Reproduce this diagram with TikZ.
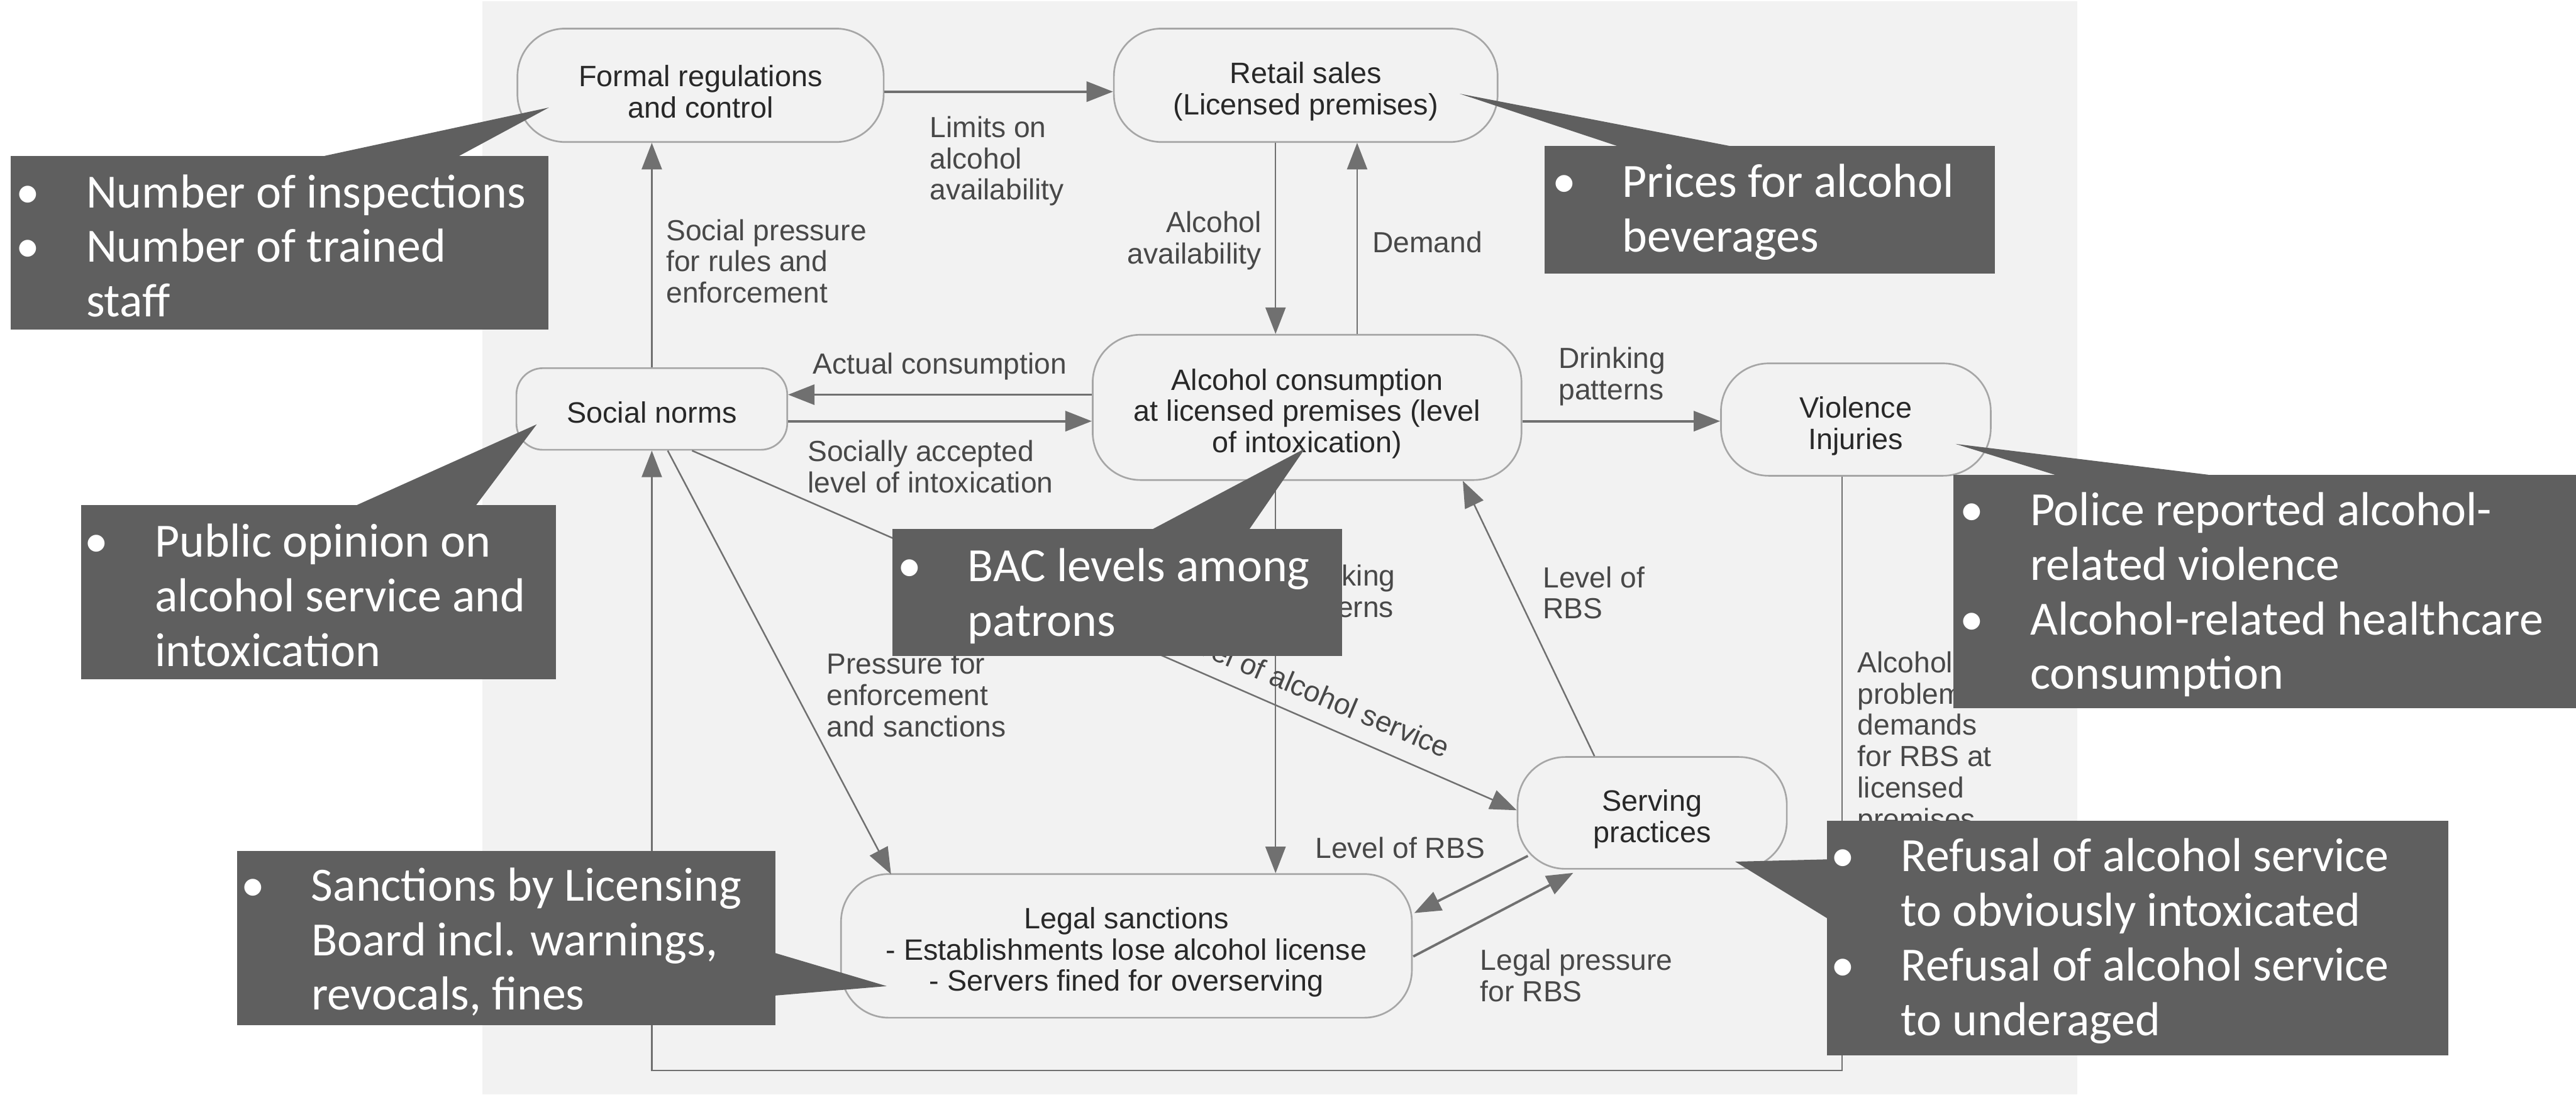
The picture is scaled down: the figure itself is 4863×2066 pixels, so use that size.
\documentclass[tikz,border=0pt]{standalone}
\usepackage{fontspec}
\setmainfont{Liberation Sans}
\newfontfamily\calloutfont{Carlito}
\usetikzlibrary{arrows.meta,calc}

\definecolor{panelgray}{RGB}{242,242,242}
\definecolor{boxline}{RGB}{166,166,166}
\definecolor{linkgray}{RGB}{112,112,112}
\definecolor{nodetext}{RGB}{40,40,40}
\definecolor{labeltext}{RGB}{72,72,72}
\definecolor{calloutgray}{RGB}{95,95,95}

% bullet hung to the left of the first line of an item
\newcommand\bul{\llap{\makebox[1.1cm][l]{\makebox[0pt][c]{\textbullet}}}}
% extra room above the first line of a box, so its text sits a little lower
\newcommand\boxtop{\rule{0pt}{18.3pt}}
\newcommand\boxtopsmall{\rule{0pt}{14.9pt}}

\tikzset{
  x=0.01cm, y=-0.01cm,
  box/.style={draw=boxline, line width=0.9pt, fill=panelgray, rounded corners=0.9cm,
    inner sep=0pt, align=center, text=nodetext, font=\fontsize{15.8pt}{16.8pt}\selectfont},
  lbl/.style={inner sep=0pt, text=labeltext, align=left, font=\fontsize{15.6pt}{16.8pt}\selectfont},
  link/.style={draw=linkgray, line width=0.85pt, -{Triangle[length=0.5cm,width=0.38cm]}},
  boldlink/.style={link, line width=1.3pt},
  callout/.style={fill=calloutgray, inner sep=0pt},
  ctext/.style={inner sep=0pt, text=white, align=left, anchor=west,
    font=\calloutfont\fontsize{25.6pt}{29.3pt}\selectfont},
}

\begin{document}
\begin{tikzpicture}
\useasboundingbox (0,0) rectangle (4863,2066);
\fill[white] (0,0) rectangle (4863,2066);
\fill[panelgray] (911,2) rectangle (3921,2066);

% --- factors ---
\node[box, minimum width=6.91cm, minimum height=2.14cm] (formal) at (1322.5,161) {\boxtop Formal regulations\\and control};
\node[box, minimum width=7.24cm, minimum height=2.14cm] (retail) at (2465,161) {\boxtop Retail sales\\(Licensed premises)};
\node[box, rounded corners=0.5cm, minimum width=5.11cm, minimum height=1.54cm] (social) at (1230.5,772) {\boxtopsmall Social norms};
\node[box, minimum width=8.09cm, minimum height=2.74cm] (alcohol) at (2467.5,769) {\boxtop Alcohol consumption\\at licensed premises (level\\of intoxication)};
\node[box, minimum width=5.09cm, minimum height=2.12cm] (violence) at (3503.5,792) {\boxtop Violence\\Injuries};
\node[box, minimum width=5.08cm, minimum height=2.11cm] (serving) at (3119,1534.5) {\boxtop Serving\\practices};
\node[box, minimum width=10.77cm, minimum height=2.71cm] (legal) at (2126.5,1785.5) {\boxtop Legal sanctions\\- Establishments lose alcohol license\\- Servers fined for overserving};

\coordinate (colA) at (2408,0);
\coordinate (colD) at (2562,0);
\coordinate (rowE) at (0,745);
\coordinate (rowF) at (0,795);

% --- influences ---
\draw[boldlink] ($(formal.east)+(0,12)$) -- ($(retail.west)+(0,12)$);
\node[lbl, anchor=west] (lLimits) at (1755,304) {Limits on\\alcohol\\availability};

\draw[link] (social.north) -- (social.north |- formal.south);
\node[lbl, anchor=west] (lSocialPressure) at (1257,493) {Social pressure\\for rules and\\enforcement};

\draw[link] (retail.south -| colA) -- (alcohol.north -| colA);
\node[lbl, anchor=east, align=right] (lAvail) at (2382,454) {Alcohol\\availability};
\draw[link] (alcohol.north -| colD) -- (retail.south -| colD);
\node[lbl, anchor=west] (lDemand) at (2590,457) {Demand};

\draw[boldlink] (alcohol.west |- rowE) -- (social.east |- rowE);
\node[lbl] (lActual) at (1774,692) {Actual consumption};
\draw[boldlink] (social.east |- rowF) -- (alcohol.west |- rowF);
\node[lbl, anchor=west] (lAccepted) at (1524,881) {Socially accepted\\level of intoxication};

\draw[boldlink] (alcohol.east |- rowF) -- (violence.west |- rowF);
\node[lbl, anchor=west] (lPatternsA) at (2942,711) {Drinking\\patterns};

\draw[link] (alcohol.south -| colA) -- (legal.north -| colA);
\node[lbl, anchor=west] (lPatternsB) at (2432,1121) {Drinking\\patterns};

\draw[link] ($(social.south)+(76,0)$) -- ($(serving.west)+(0,-5)$);
\node[lbl, rotate=-23] (lService) at (2472,1302) {Level of alcohol service};

\draw[link] ($(social.south)+(30,0)$) -- ($(legal.north west)+(96,2)$);
\node[lbl, anchor=west] (lPressure) at (1560,1312) {Pressure for\\enforcement\\and sanctions};

\draw[link] ($(violence.south)+(-26,0)$) -- ++(0,1121) -| (social.south);
\node[lbl, anchor=west] (lProblems) at (3506,1403) {Alcohol\\problem\\demands\\for RBS at\\licensed\\premises};

\draw[link] ($(serving.north)+(-109,0)$) -- ($(alcohol.south)+(294,0)$);
\node[lbl, anchor=west] (lRbsUp) at (2912,1119) {Level of\\RBS};

\draw[boldlink] ($(serving.south west)+(21,-26)$) -- ($(legal.east)+(3,-62)$);
\node[lbl] (lRbsDown) at (2643,1600) {Level of RBS};
\draw[boldlink] ($(legal.east)+(1,20)$) -- ($(serving.south)+(-149,6)$);
\node[lbl, anchor=west] (lLegalPressure) at (2794,1841) {Legal pressure\\for RBS};

% --- indicator callouts ---
\node[callout, minimum width=10.14cm, minimum height=3.28cm] (c1) at (528,458) {};
\fill[calloutgray] ($(c1.north west)+(593,1)$) -- ($(formal.west)+(61,42)$) -- ($(c1.north west)+(847,1)$) -- cycle;
\node[ctext] (c1t) at ($(c1.west)+(142,6)$) {\bul Number of inspections\\\bul Number of trained\\staff};

\node[callout, minimum width=8.50cm, minimum height=2.40cm] (c2) at (3341,396) {};
\fill[calloutgray] ($(c2.north west)+(140,1)$) -- ($(retail.east)+(-73,16)$) -- ($(c2.north west)+(354,1)$) -- cycle;
\node[ctext] (c2t) at ($(c2.west)+(147,4)$) {\bul Prices for alcohol\\beverages};

\node[callout, minimum width=8.96cm, minimum height=3.29cm] (c3) at (601,1117.5) {};
\fill[calloutgray] ($(c3.north west)+(522,1)$) -- ($(social.west)+(40,29)$) -- ($(c3.north west)+(747,1)$) -- cycle;
\node[ctext] (c3t) at ($(c3.west)+(140,6)$) {\bul Public opinion on\\alcohol service and\\intoxication};

\node[callout, minimum width=8.48cm, minimum height=2.40cm] (c4) at (2109,1118) {};
\fill[calloutgray] ($(c4.north west)+(493,1)$) -- ($(alcohol.south)+(-4,-61)$) -- ($(c4.north west)+(675,1)$) -- cycle;
\node[ctext] (c4t) at ($(c4.west)+(142,7)$) {\bul BAC levels among\\patrons};

\node[callout, minimum width=11.75cm, minimum height=4.41cm] (c5) at (4275.5,1116.5) {};
\fill[calloutgray] ($(c5.north west)+(192,1)$) -- ($(violence.east)+(-68,46)$) -- ($(c5.north west)+(482,1)$) -- cycle;
\node[ctext] (c5t) at ($(c5.west)+(145,6)$) {\bul Police reported alcohol-\\related violence\\\bul Alcohol-related healthcare\\consumption};

\node[callout, minimum width=11.73cm, minimum height=4.43cm] (c6) at (4035.5,1770.5) {};
\fill[calloutgray] ($(c6.north west)+(1,74)$) -- ($(serving.east)+(-99,92)$) -- ($(c6.north west)+(1,185)$) -- cycle;
\node[ctext] (c6t) at ($(c6.west)+(140,6)$) {\bul Refusal of alcohol service\\to obviously intoxicated\\\bul Refusal of alcohol service\\to underaged};

\node[callout, minimum width=10.16cm, minimum height=3.28cm] (c7) at (956,1771) {};
\fill[calloutgray] ($(c7.north east)+(-1,193)$) -- ($(legal.west)+(88,76)$) -- ($(c7.north east)+(-1,273)$) -- cycle;
\node[ctext] (c7t) at ($(c7.west)+(140,7)$) {\bul Sanctions by Licensing\\Board incl. warnings,\\revocals, fines};
\end{tikzpicture}
\end{document}
